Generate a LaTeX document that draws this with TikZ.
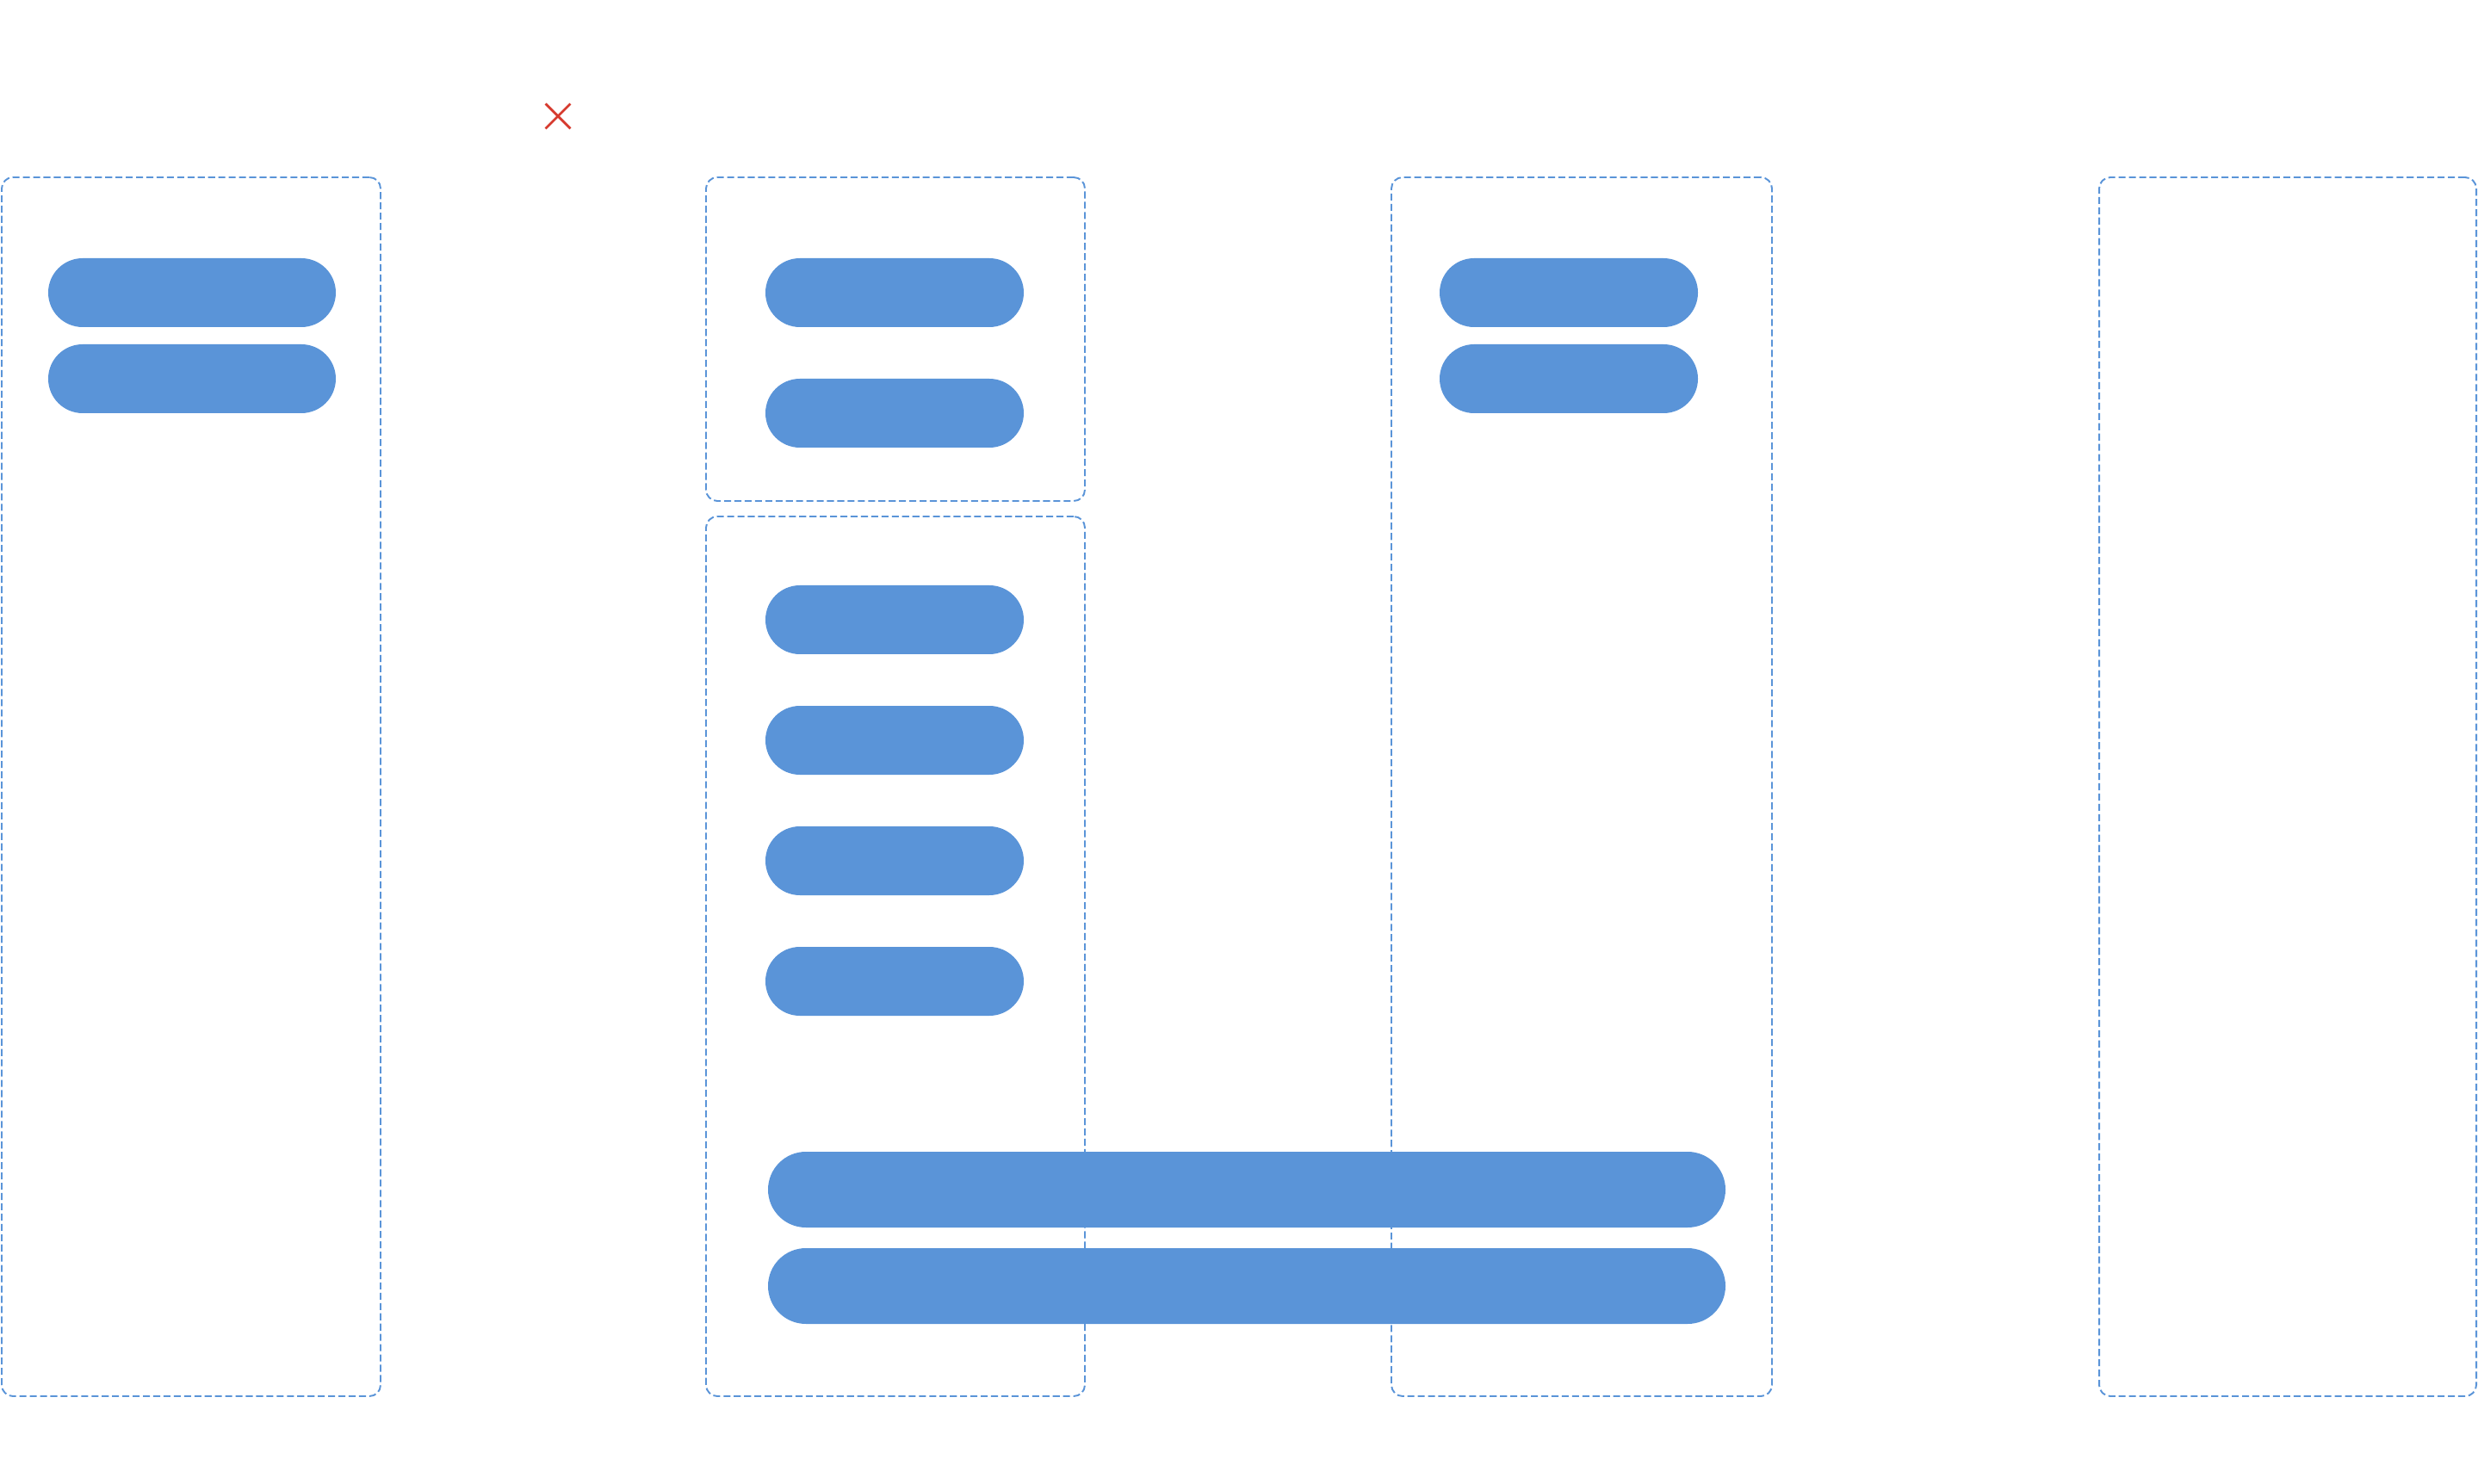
\documentclass[tikz,border=0pt]{standalone}
\usepackage{tikz}
\usetikzlibrary{positioning}
\usetikzlibrary{shapes.misc}

\definecolor{laneblue}{RGB}{90,148,216}
\definecolor{closered}{RGB}{214,58,46}

\begin{document}
\begin{tikzpicture}[
                          lanebox/.style={rectangle, draw=laneblue, line width=0.55pt, dash pattern=on 2.3pt off 1.1pt, rounded corners=0.13cm, inner sep=0pt, minimum width=4.4cm},
                          pillnode/.style={rectangle, fill=laneblue, rounded corners=0.4cm, inner sep=0pt, outer sep=0pt, minimum height=0.8cm, minimum width=3cm},
                          widepill/.style={rectangle, fill=laneblue, rounded corners=0.44cm, inner sep=0pt, outer sep=0pt, minimum height=0.88cm, minimum width=11.12cm},
                          closemark/.style={cross out, draw=closered, line width=0.8pt, inner sep=0pt, minimum size=0.26cm},
                      ]
                      \useasboundingbox (0,0) rectangle (28.78,-17.24);

                      % Lanes
                      \node[lanebox, minimum height=14.16cm]                (lane_1)   at (2.22,-9.14)    {};
                      \node[lanebox, minimum height=3.76cm]                 (lane_2a)  at (10.40,-3.94)   {};
                      \node[lanebox, minimum height=10.22cm]                (lane_2b)  at (10.40,-11.11)  {};
                      \node[lanebox, minimum height=14.16cm, minimum width=4.42cm] (lane_3) at (18.37,-9.14) {};
                      \node[lanebox, minimum height=14.16cm, minimum width=4.38cm] (lane_4) at (26.57,-9.14) {};

                      % Close mark
                      \node[closemark]        (close)    at (6.48,-1.35)     {};

                      % Nodes
                      \node[pillnode, minimum width=3.34cm]   (item_1_1)   at (2.23,-3.40)        {};
                      \node[pillnode, minimum width=3.34cm]   (item_1_2)   [below=0.2 of item_1_1]  {};

                      \node[pillnode]        (item_2_1)    at (10.39,-3.40)        {};
                      \node[pillnode]        (item_2_2)    [below=0.6 of item_2_1]  {};

                      \node[pillnode]        (item_2_3)    at (10.39,-7.20)        {};
                      \node[pillnode]        (item_2_4)    [below=0.6 of item_2_3]  {};
                      \node[pillnode]        (item_2_5)    [below=0.6 of item_2_4]  {};
                      \node[pillnode]        (item_2_6)    [below=0.6 of item_2_5]  {};

                      \node[pillnode]        (item_3_1)    at (18.22,-3.40)        {};
                      \node[pillnode]        (item_3_2)    [below=0.2 of item_3_1]  {};

                      \node[widepill]        (span_1)      at (14.48,-13.82)       {};
                      \node[widepill]        (span_2)      [below=0.24 of span_1]   {};
                  \end{tikzpicture}
\end{document}
